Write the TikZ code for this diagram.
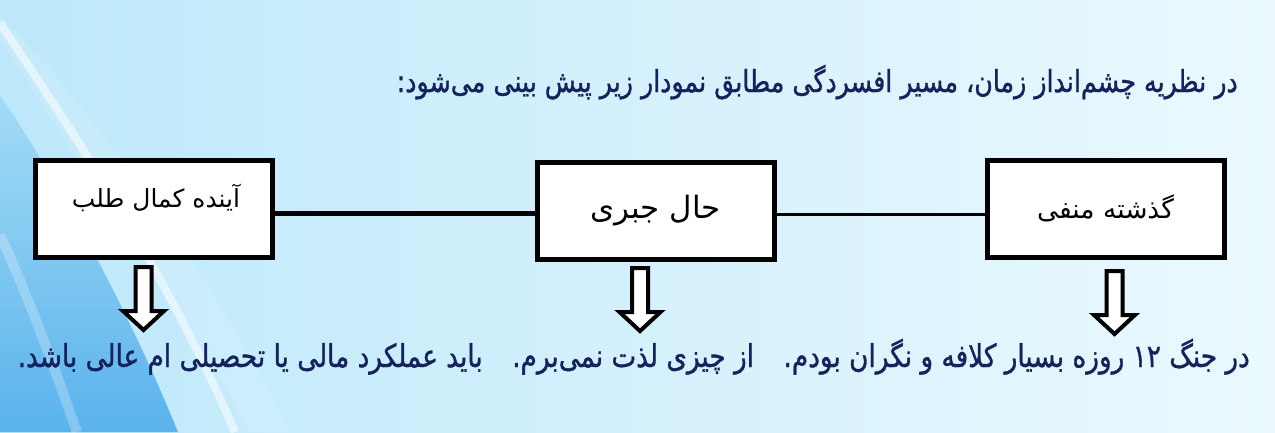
\documentclass[tikz,border=0pt]{standalone}
\usepackage{fontspec}
\usepackage{graphicx}
\TeXXeTstate=1
\newfontfamily\fa[Script=Arabic]{DejaVu Sans}
\newfontfamily\fab[Script=Arabic,FakeBold=1.2]{DejaVu Sans}
\definecolor{bgL}{HTML}{BDE8FA}
\definecolor{bgR}{HTML}{EBF9FE}
\definecolor{deepblue}{HTML}{5AB3EC}
\definecolor{midblue}{HTML}{A3DBF6}
\definecolor{navy}{HTML}{14235E}
\tikzset{
  boxnode/.style={draw=black, line width=5pt, fill=white, minimum width=237pt, minimum height=97pt, inner sep=0pt, font=\fa\fontsize{20}{24}\selectfont},
  boxlabel/.style={inner sep=0pt, font=\fa\fontsize{20}{24}\selectfont},
  thickconn/.style={draw=black, line width=4.5pt},
  thinconn/.style={draw=black, line width=2.5pt},
  navytext/.style={inner sep=0pt, text=navy, font=\fab},
  downarrow/.pic={\draw[line width=4pt, draw=black, fill=white, line join=miter, miter limit=10]
      (-8,0) -- (8,0) -- (8,44) -- (20.5,44) -- (0,63) -- (-20.5,44) -- (-8,44) -- cycle;}
}
\begin{document}
\begin{tikzpicture}[x=1pt, y=-1pt]
\useasboundingbox (0,0) rectangle (1275,432);
% background
\fill[left color=bgL, right color=bgR] (0,0) rectangle (1275,432);
\shade[top color=midblue, bottom color=deepblue] (0,95) .. controls (50,170) and (120,290) .. (178,432) -- (0,432) -- cycle;
\fill[white, opacity=0.12] (0,40) .. controls (70,150) and (170,280) .. (250,432) -- (290,432) .. controls (215,280) and (110,130) .. (0,15) -- cycle;
\draw[white, opacity=0.55, line width=8pt] (0,23) .. controls (75,135) and (165,270) .. (235,432);
\draw[white, opacity=0.25, line width=10pt] (0,235) .. controls (30,300) and (55,370) .. (77,432);
% title
\node[navytext, anchor=base east] (title) at (1238,92)
  {\scalebox{1}[1.2]{\resizebox{841pt}{!}{\beginR در نظریه چشم‌انداز زمان، مسیر افسردگی مطابق نمودار زیر پیش بینی می‌شود:\endR}}};
% boxes
\node[boxnode] (b1) at (154,209) {};
\node[boxlabel] (t1) at (156,198) {\resizebox{168pt}{!}{\beginR آینده کمال طلب\endR}};
\node[boxnode] (b2) at (655.5,210.5) {\resizebox{130pt}{!}{\beginR حال جبری\endR}};
\node[boxnode] (b3) at (1105.5,208.5) {\resizebox{137pt}{!}{\beginR گذشته منفی\endR}};
% connectors
\draw[thickconn] ([yshift=-4.5pt]b1.east) -- ([yshift=-4.5pt]b1.east -| b2.west);
\draw[thinconn] ([yshift=-4pt]b2.east) -- ([yshift=-4pt]b2.east -| b3.west);
% arrows
\pic (a1) at (143.5,267) {downarrow};
\pic (a2) at (640,268) {downarrow};
\pic (a3) at (1114.5,271) {downarrow};
% bottom text
\node[navytext, anchor=base east] (bottom) at (1250,367)
  {\scalebox{1}[1.2]{\resizebox{1232pt}{!}{\beginR در جنگ \beginL ۱۲\endL{} روزه بسیار کلافه و نگران بودم.\hspace{0.7em} از چیزی لذت نمی‌برم.\hspace{0.7em} باید عملکرد مالی یا تحصیلی ام عالی باشد.\endR}}};
\end{tikzpicture}
\end{document}
